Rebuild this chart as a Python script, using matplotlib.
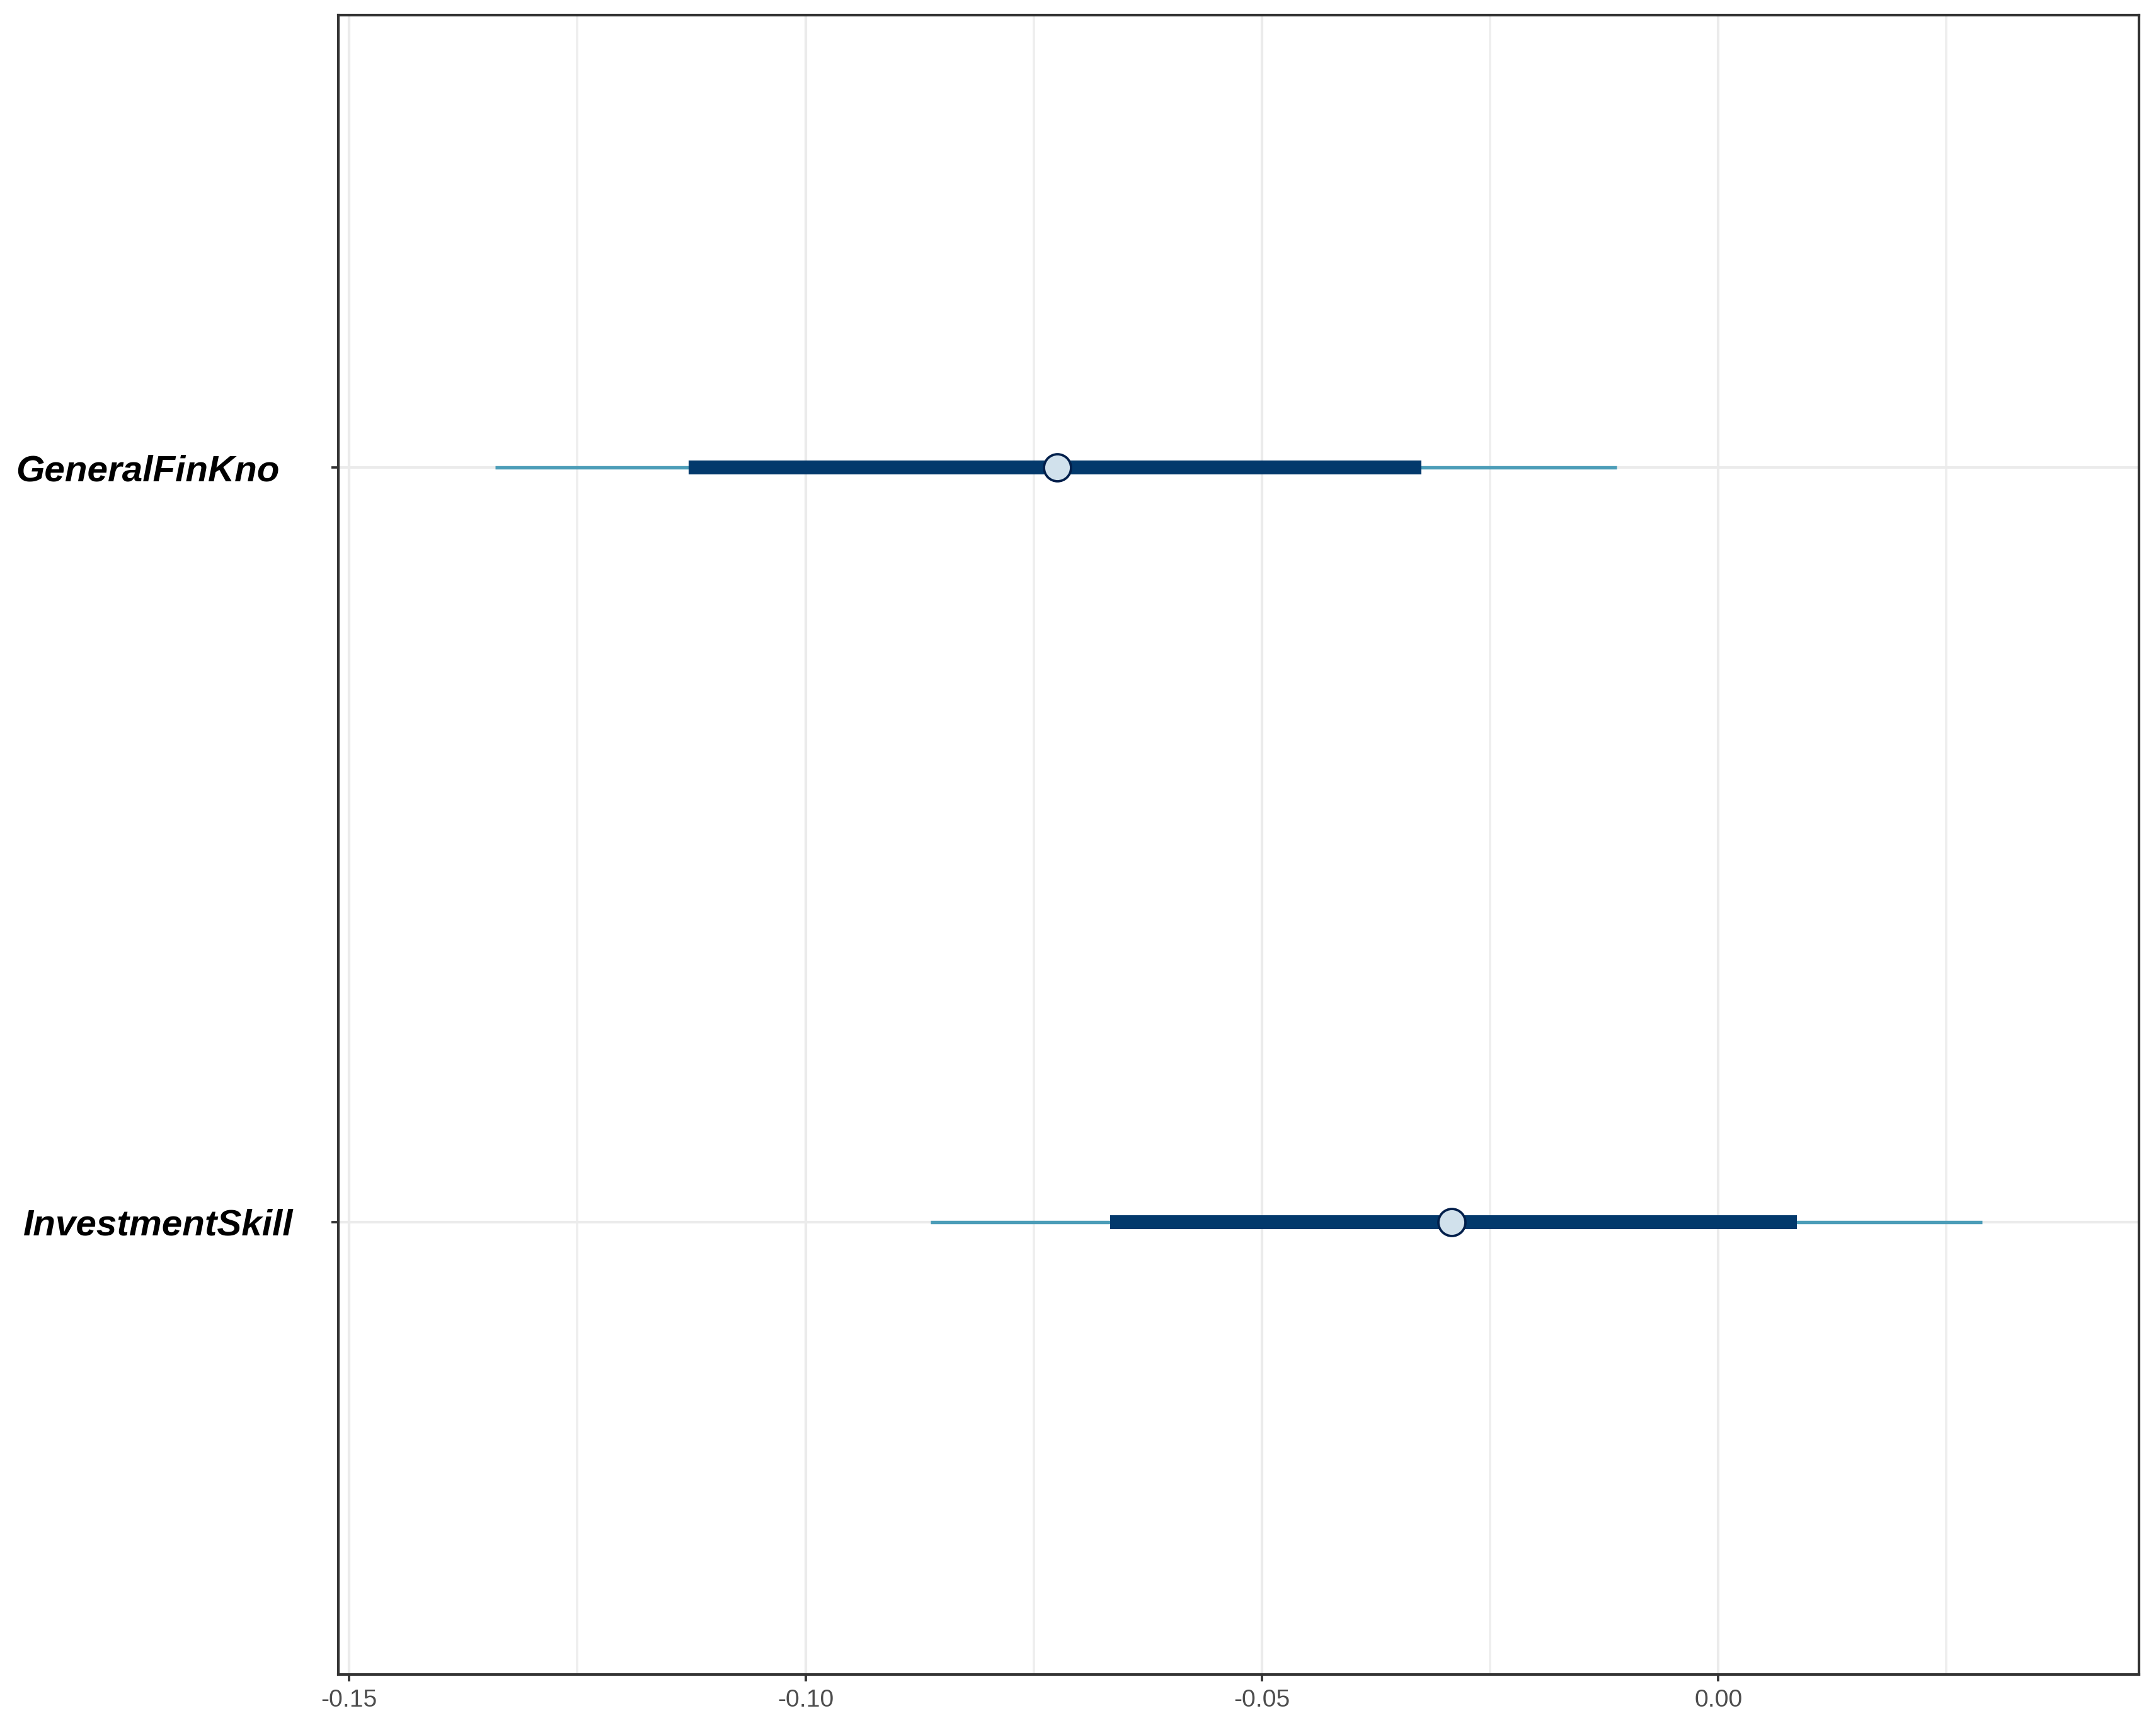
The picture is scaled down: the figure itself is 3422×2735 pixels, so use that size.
import numpy as np
import matplotlib
matplotlib.use("Agg")
import matplotlib.pyplot as plt
from matplotlib.ticker import FormatStrFormatter, MultipleLocator

# %% data (posterior intervals)
params = ["InvestmentSkill", "GeneralFinKno"]
outer_lo = [-0.0863, -0.1340]
outer_hi = [0.0289, -0.0111]
inner_lo = [-0.0666, -0.1128]
inner_hi = [0.0086, -0.0325]
point_est = [-0.0292, -0.0724]

plt.rcParams["font.family"] = ["Liberation Sans", "DejaVu Sans"]
plt.rcParams["axes.unicode_minus"] = False

# %%
fig = plt.figure(figsize=(3422 / 300, 2735 / 300), dpi=300)
ax = fig.add_axes([0.1569, 0.0282, 0.8352, 0.9630])

ypos = np.arange(1, len(params) + 1)

ax.hlines(ypos, outer_lo, outer_hi, color="#4c9db8", lw=1.3, zorder=3)
ax.hlines(ypos, inner_lo, inner_hi, color="#03396c", lw=5.3, zorder=4)
ax.plot(point_est, ypos, "o", ms=10.3, mfc="#d1e1ec", mec="#011f4b", mew=0.9, zorder=5)

ax.set_xlim(-0.1512, 0.0461)
ax.set_ylim(0.4, 2.6)
ax.xaxis.set_major_locator(MultipleLocator(0.05))
ax.xaxis.set_minor_locator(MultipleLocator(0.025))
ax.xaxis.set_major_formatter(FormatStrFormatter("%.2f"))
ax.set_yticks(ypos)
ax.set_yticklabels(params, fontsize=14, fontweight="bold", fontstyle="italic", color="black")

ax.grid(which="major", color="#ebebeb", lw=1.0, zorder=0)
ax.grid(which="minor", axis="x", color="#eeeeee", lw=0.9, zorder=0)
ax.set_axisbelow(True)

ax.tick_params(axis="x", which="major", length=2.6, width=0.9, color="#333333",
               labelsize=9.4, labelcolor="#4d4d4d", pad=3)
ax.tick_params(axis="x", which="minor", length=0)
ax.tick_params(axis="y", length=2.6, width=0.9, color="#333333")
pads = [14.6, 19.9]
for t, p in zip(ax.yaxis.get_major_ticks(), pads):
    t.set_pad(p)

for s in ax.spines.values():
    s.set_color("#333333")
    s.set_linewidth(1.0)

fig.savefig("out.png", dpi=300)
